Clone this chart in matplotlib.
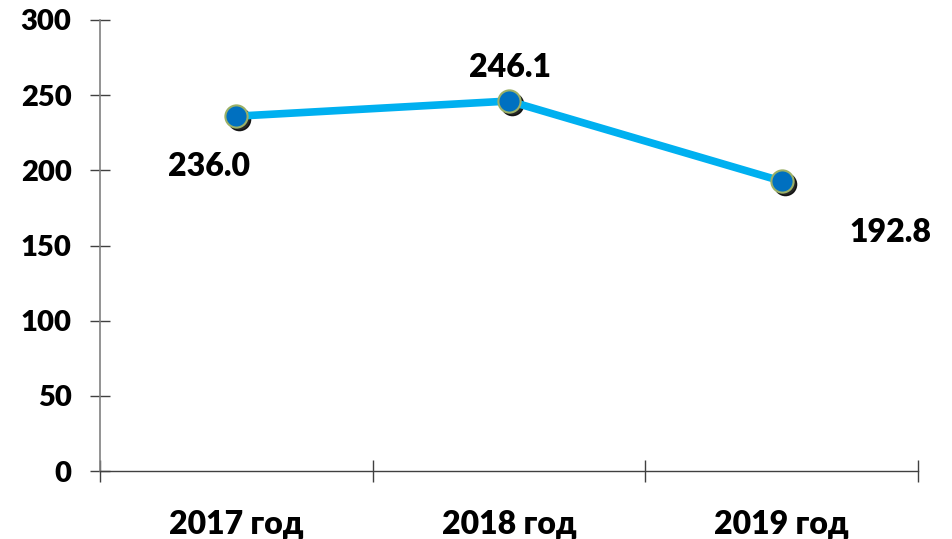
import matplotlib
matplotlib.use("Agg")
import matplotlib.pyplot as plt
import matplotlib.transforms as mtransforms

plt.rcParams['font.family'] = ['Lato', 'DejaVu Sans']
plt.rcParams['font.weight'] = 'heavy'

categories = ["2017 год", "2018 год", "2019 год"]
values = [236.0, 246.1, 192.8]
labels = ["236.0", "246.1", "192.8"]
label_offsets = [(-20, -36), (1, 24), (78, -37)]  # points

fig = plt.figure(figsize=(9.52, 5.39), dpi=100)
ax = fig.add_axes([100 / 952, 1 - 471 / 539, (918 - 100) / 952, (471 - 20) / 539])

x = list(range(len(categories)))

# marker shadow
shadow = mtransforms.offset_copy(ax.transData, fig=fig, x=3, y=-3, units='dots')
ax.plot(x, values, ls='none', marker='o', ms=16, color='black', alpha=0.85,
        transform=shadow, zorder=2)
ax.plot(x, values, color='#00B0F0', lw=5.5, zorder=3, solid_capstyle='butt')
ax.plot(x, values, ls='none', marker='o', ms=16, mfc='#0070C0', mec='#9BB067',
        mew=1.5, zorder=4)

for xi, v, t, off in zip(x, values, labels, label_offsets):
    ax.annotate(t, (xi, v), xytext=off, textcoords='offset points',
                ha='center', va='center', fontsize=23, fontweight='heavy')

ax.set_ylim(0, 300)
ax.set_yticks(range(0, 301, 50))
ax.set_xlim(-0.5, 2.5)
ax.set_xticks(x)
ax.set_xticklabels(categories)
ax.set_xticks([-0.5, 0.5, 1.5, 2.5], minor=True)

for s in ['top', 'right']:
    ax.spines[s].set_visible(False)
ax.spines['left'].set_color('#808080')
ax.spines['left'].set_linewidth(1.2)
ax.spines['bottom'].set_color('#404040')
ax.spines['bottom'].set_linewidth(1.0)

ax.tick_params(axis='y', direction='inout', length=15, width=1, color='#404040',
               labelsize=21, pad=13)
ax.tick_params(axis='x', which='major', length=0, labelsize=23, pad=28)
ax.tick_params(axis='x', which='minor', direction='inout', length=16, width=1,
               color='#404040')
for lab in ax.get_xticklabels() + ax.get_yticklabels():
    lab.set_fontweight('heavy')

fig.savefig("out.png", dpi=100)
